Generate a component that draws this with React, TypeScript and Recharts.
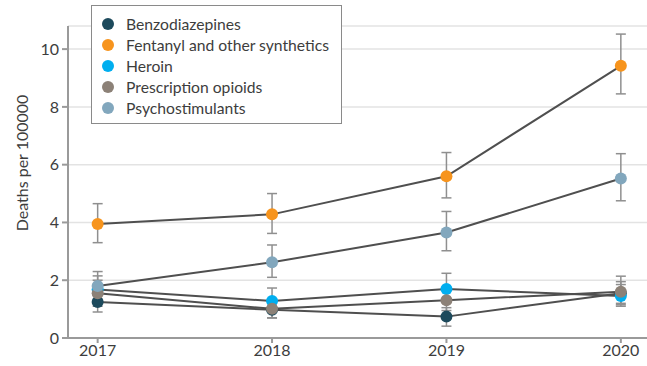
import { LineChart, Line, XAxis, YAxis, CartesianGrid, ErrorBar } from "recharts";

const YEARS = [2017, 2018, 2019, 2020];

const SERIES_NAMES = [
  "Benzodiazepines",
  "Fentanyl and other synthetics",
  "Heroin",
  "Prescription opioids",
  "Psychostimulants",
];
const SERIES_KEYS = ["benzo", "fentanyl", "heroin", "rx", "psycho"];
const SERIES_COLORS = ["#1d4a5c", "#f7941d", "#00aeef", "#8c8177", "#82a7bd"];

// point estimates
const BENZO = [1.25, 0.98, 0.74, 1.55];
const FENTANYL = [3.95, 4.28, 5.6, 9.42];
const HEROIN = [1.68, 1.28, 1.7, 1.45];
const RX = [1.55, 1.01, 1.31, 1.6];
const PSYCHO = [1.8, 2.62, 3.65, 5.52];

// 95% CI bounds
const BENZO_LO = [0.9, 0.7, 0.41, 1.15];
const BENZO_HI = [1.65, 1.3, 1.05, 1.95];
const FENTANYL_LO = [3.3, 3.62, 4.85, 8.45];
const FENTANYL_HI = [4.65, 5.0, 6.42, 10.52];
const HEROIN_LO = [1.2, 0.95, 1.25, 1.1];
const HEROIN_HI = [2.15, 1.73, 2.24, 1.85];
const RX_LO = [1.1, 0.69, 0.95, 1.2];
const RX_HI = [2.0, 1.35, 1.7, 2.14];
const PSYCHO_LO = [1.35, 2.1, 3.02, 4.75];
const PSYCHO_HI = [2.3, 3.22, 4.38, 6.38];

const Y_TICKS = [0, 2, 4, 6, 8, 10];

const VALUES = [BENZO, FENTANYL, HEROIN, RX, PSYCHO];
const LOWS = [BENZO_LO, FENTANYL_LO, HEROIN_LO, RX_LO, PSYCHO_LO];
const HIGHS = [BENZO_HI, FENTANYL_HI, HEROIN_HI, RX_HI, PSYCHO_HI];

const data = YEARS.map((year, i) => {
  const row: Record<string, number | number[]> = { year };
  SERIES_KEYS.forEach((k, s) => {
    const v = VALUES[s][i];
    row[k] = v;
    row[k + "Err"] = [v - LOWS[s][i], HIGHS[s][i] - v];
  });
  return row;
});

const FONT = "Lato, 'Open Sans', sans-serif";
const TEXT = "#3d3d3d";
const AXIS = "#9a9a9a";

function LegendBox() {
  return (
    <div
      style={{
        position: "absolute",
        left: 91,
        top: 5,
        width: 251,
        height: 119,
        border: "1.5px solid #8a8a8a",
        background: "white",
        boxSizing: "border-box",
        padding: "8px 0 0 10px",
        fontFamily: FONT,
        fontSize: 15.7,
        color: TEXT,
      }}
    >
      {SERIES_NAMES.map((name, i) => (
        <div key={name} style={{ display: "flex", alignItems: "center", height: 20.8 }}>
          <span
            style={{
              display: "inline-block",
              width: 12,
              height: 12,
              borderRadius: 6,
              background: SERIES_COLORS[i],
              marginRight: 12,
              flexShrink: 0,
            }}
          />
          <span>{name}</span>
        </div>
      ))}
    </div>
  );
}

// eslint-disable-next-line @typescript-eslint/no-explicit-any
function YLabel(props: any) {
  const { viewBox } = props;
  const cy = viewBox.y + viewBox.height / 2 - 19;
  return (
    <text
      x={21}
      y={cy}
      transform={`rotate(-90, 21, ${cy})`}
      textAnchor="middle"
      dominantBaseline="central"
      fill={TEXT}
      fontSize={16}
      fontFamily={FONT}
    >
      Deaths per 100000
    </text>
  );
}

export default function App() {
  return (
    <div style={{ position: "absolute", left: 0, top: 0, width: 647, height: 366, background: "white" }}>
      <LineChart
        width={647}
        height={366}
        data={data}
        margin={{ top: 26, right: 0, bottom: 0, left: 6 }}
      >
        <CartesianGrid vertical={false} stroke="#e3e3e3" strokeWidth={1.5} />
        <XAxis
          dataKey="year"
          type="number"
          domain={[2016.83, 2020.15]}
          ticks={YEARS}
          allowDataOverflow
          height={28}
          tickSize={5}
          tickMargin={2}
          stroke={AXIS}
          strokeWidth={2}
          tick={{ fill: TEXT, fontSize: 16, fontFamily: FONT }}
        />
        <YAxis
          type="number"
          domain={[0, 10.8]}
          ticks={Y_TICKS}
          allowDataOverflow
          width={62}
          tickSize={6}
          tickMargin={3}
          stroke={AXIS}
          strokeWidth={2}
          tick={{ fill: TEXT, fontSize: 16, fontFamily: FONT }}
          label={{ content: YLabel }}
        />
        {SERIES_KEYS.map((k, i) => (
          <Line
            key={k}
            dataKey={k}
            name={SERIES_NAMES[i]}
            stroke="#4f4f4f"
            strokeWidth={2}
            isAnimationActive={false}
            dot={{ r: 6, fill: SERIES_COLORS[i], stroke: "none" }}
            activeDot={false}
          >
            <ErrorBar dataKey={k + "Err"} width={5} stroke="#8f8f8f" strokeWidth={1.5} direction="y" />
          </Line>
        ))}
      </LineChart>
      <LegendBox />
    </div>
  );
}
